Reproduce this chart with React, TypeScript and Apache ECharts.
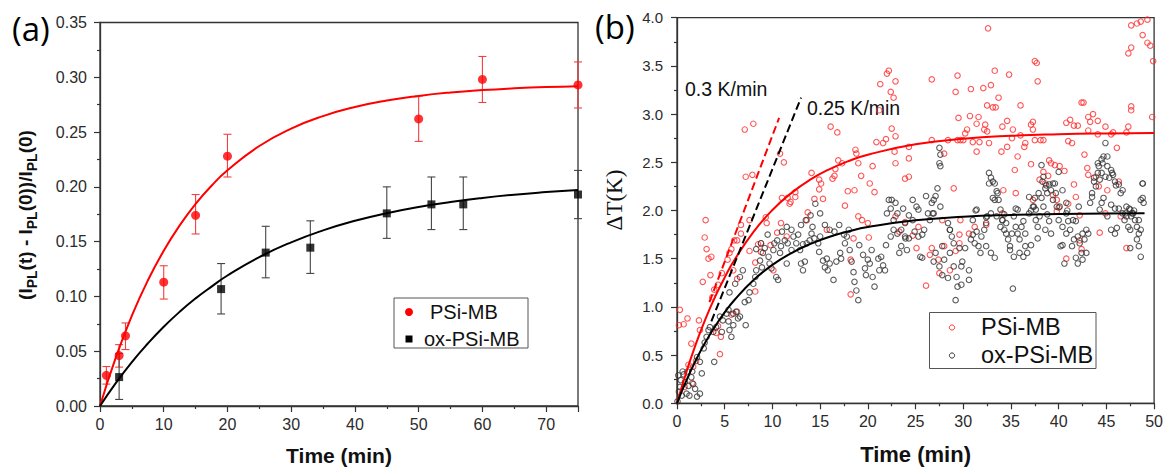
import React, { useEffect, useRef } from 'react';
import * as echarts from 'echarts';

// ---------- Panel (a) data ----------
const psiTimeA = [1, 3, 4, 10, 15, 20, 50, 60, 75];
const psiValA = [0.028, 0.046, 0.064, 0.113, 0.174, 0.228, 0.262, 0.298, 0.293];
const psiLoA = [0.020, 0.0355, 0.0515, 0.0976, 0.157, 0.209, 0.2415, 0.277, 0.272];
const psiHiA = [0.036, 0.056, 0.0758, 0.128, 0.193, 0.248, 0.283, 0.319, 0.314];

const oxTimeA = [3, 19, 26, 33, 45, 52, 57, 75];
const oxValA = [0.0264, 0.1067, 0.140, 0.1445, 0.1758, 0.184, 0.184, 0.193];
const oxLoA = [0.006, 0.084, 0.117, 0.121, 0.153, 0.161, 0.161, 0.171];
const oxHiA = [0.048, 0.130, 0.164, 0.169, 0.200, 0.209, 0.209, 0.215];

// fitted curves
const fitTimeA = [0, 2.5, 5, 7.5, 10, 12.5, 15, 17.5, 20, 25, 30, 35, 40, 45, 50, 55, 60, 65, 70, 75];
const psiFitA = [0, 0.0446, 0.0824, 0.1145, 0.1417, 0.1648, 0.1844, 0.201, 0.2151, 0.2373, 0.2532, 0.2646, 0.2729, 0.2788, 0.283, 0.2861, 0.2883, 0.2899, 0.2911, 0.2919];
const oxFitA = [0, 0.0211, 0.0401, 0.057, 0.0723, 0.086, 0.0982, 0.109, 0.1191, 0.1359, 0.1494, 0.1603, 0.169, 0.176, 0.1817, 0.1862, 0.1899, 0.1929, 0.1952, 0.1971];

const xTicksA = { min: 0, max: 75, interval: 10 };
const yTicksA = { min: 0, max: 0.35, interval: 0.05 };

// ---------- Panel (b) data ----------
const psiFitTimeB = [0, 1, 2, 3, 4, 5, 6, 8, 10, 12, 14, 16, 18, 20, 25, 30, 35, 40, 45, 50];
const psiFitB = [0, 0.33, 0.622, 0.879, 1.106, 1.306, 1.483, 1.776, 2.005, 2.183, 2.322, 2.43, 2.514, 2.579, 2.687, 2.744, 2.775, 2.791, 2.8, 2.805];
const oxFitTimeB = [0, 1, 2, 3, 4, 5, 6, 8, 10, 12, 14, 16, 18, 20, 25, 30, 35, 40, 45, 49];
const oxFitB = [0, 0.2406, 0.4517, 0.6372, 0.8, 0.9432, 1.069, 1.276, 1.436, 1.559, 1.654, 1.728, 1.784, 1.828, 1.898, 1.935, 1.954, 1.964, 1.969, 1.972];

const slope03 = [[3.4, 1.05], [10.7, 2.96]];
const slope025 = [[3.6, 0.85], [13.0, 3.17]];

const psiScatterB = [
  [47.6,3.92],[48.2,3.94],[48.6,3.96],[49.3,3.98],[47.3,3.63],[47.6,3.69],[48.8,3.82],[49.3,3.74],[49.6,3.71],[49.9,3.55],[49.8,2.97],
  [32.6,3.89],[37.5,3.55],[37.7,3.53],[37.8,3.34],[34.8,3.41],[33.3,3.45],[29.4,3.40],[26.7,3.36],[30.8,3.26],[32.1,3.27],[32.9,3.30],[29.2,3.23],[32.5,3.09],[33.1,3.07],[33.4,3.07],[33.7,3.17],[36.0,3.09],[42.4,3.12],[42.6,3.12],[43.6,3.0],[47.6,3.04],[47.6,3.08],
  [29.5,2.96],[30.7,2.98],[31.6,2.97],[31.4,2.90],[32.3,2.89],[32.2,2.84],[34.1,2.87],[34.6,2.93],[35.2,2.84],[36.0,2.78],[37.1,2.89],[37.3,2.92],[30.4,2.84],[30.2,2.80],[29.7,2.73],[30.0,2.73],[32.5,2.82],[35.1,2.75],[35.7,2.56],[35.4,2.42],[34.6,2.66],[34.0,2.61],[36.5,2.70],[36.4,2.66],[37.3,2.84],[37.5,2.73],[38.1,2.73],[38.4,2.73],[37.1,2.48],[38.4,2.40],[39.0,2.52],[39.2,2.49],[39.6,2.47],[40.1,2.46],[40.6,2.41],[40.8,2.91],[41.2,2.94],[41.6,2.88],[42.0,2.88],[41.0,2.72],[41.4,2.70],[42.7,2.58],[43.0,2.44],[43.9,2.35],[43.1,2.97],[43.3,2.92],[43.1,2.83],[44.1,2.93],[44.1,2.79],[44.9,2.87],[45.5,2.79],[45.7,2.81],[46.1,2.65],[47.3,2.87],[47.1,2.81],
  [45.1,2.21],[44.2,2.25],[46.3,2.30],[44.9,1.97],[46.5,1.94],[47.1,1.61],[44.3,1.77],[42.2,1.69],[42.4,1.60],[40.8,1.50],[42.2,1.95],[40.0,2.03],[39.8,2.11],[39.4,2.16],[38.6,2.28],[38.9,2.36],[38.0,2.32],[39.8,1.99],[41.0,2.07],[41.6,2.27],[43.1,2.37],[41.8,2.14],[37.3,2.11],[35.5,2.18],[34.2,2.21],[34.1,1.97],[32.4,1.85],[31.2,1.83],[30.6,1.76],[29.6,1.75],[29.0,2.23],[29.7,1.90],[31.4,2.61],[31.7,2.71],[32.7,2.70],[29.4,2.73],[28.4,2.73],[28.0,2.59],[31.0,2.71],[26.7,2.73],
  [24.3,2.66],[24.3,2.54],[24.3,2.35],[23.9,2.33],[22.8,2.61],[22.5,2.85],[22.9,2.77],[22.9,2.49],[21.9,2.74],[21.6,2.70],[21.2,3.04],[21.3,3.31],[22.0,3.42],[22.2,3.45],[22.4,3.23],[22.7,3.17],[22.9,3.34],[20.9,2.71],[20.5,2.46],[20.2,2.28],[20.7,2.19],[20.0,1.87],[19.0,2.49],[18.7,2.63],[18.8,2.59],[19.3,2.36],[18.6,2.21],[17.9,2.20],[19.0,1.94],[19.4,1.90],[18.5,1.71],[18.2,1.49],[18.2,1.13],[20.1,1.72],[17.3,2.49],[16.9,2.52],[16.1,2.87],[16.8,2.81],[16.3,2.33],[16.5,2.36],[16.6,2.43],[17.6,2.05],
  [14.9,2.32],[15.1,2.28],[15.3,2.12],[15.7,1.80],[14.1,2.39],[14.4,2.12],[14.9,2.22],[13.7,1.98],[13.6,1.90],[12.4,2.19],[12.4,2.14],[11.9,2.09],[11.8,2.07],[11.6,2.13],[11.2,2.50],[10.8,2.59],[11.0,2.13],[10.9,1.87],[11.5,1.73],[10.5,1.77],[10.1,1.38],[9.4,1.87],[9.8,1.64],[9.3,1.93],[8.8,1.57],[8.5,1.65],[8.8,1.66],[8.2,1.46],[8.0,2.90],[7.1,2.84],[7.9,2.37],[7.2,2.35],[7.6,1.90],[7.6,1.58],[8.2,1.16],[6.7,1.76],[6.3,1.69],[6.0,1.69],[5.5,1.56],[5.7,1.60],[5.3,1.49],[5.9,1.38],[6.3,1.29],[6.7,1.85],
  [4.7,1.35],[4.3,1.23],[3.9,1.18],[3.7,1.10],[3.5,1.33],[3.1,1.60],[3.3,1.50],[3.6,1.52],[2.9,1.72],[3.0,1.90],[2.7,1.26],[4.3,0.80],[4.6,0.69],[4.5,0.51],[4.1,0.73],[2.4,0.76],[2.3,0.86],[1.5,0.62],[1.1,0.88],[0.7,0.82],[0.3,0.97],[0.2,0.81],[1.2,0.40],[1.7,0.38],[2.0,0.44],[1.6,0.21],[0.8,0.17],[6.3,0.95],[5.7,0.92],
  [24.7,1.74],[25.1,1.61],[26.1,1.22],[26.7,1.61],[27.4,1.49],[27.5,1.35],[26.5,1.54],[28.0,1.63],[28.6,1.38],[27.8,1.90],[29.2,1.58],[29.6,1.66],[23.3,1.78],[23.9,1.88],[25.3,1.83],[22.9,1.94],
];

const oxScatterB = [
  [0.14,0.29],[0.59,0.33],[0.3,0.17],[0.84,0.22],[1.0,0.1],[1.3,0.08],[1.5,0.27],[1.7,0.2],[1.9,0.15],[2.1,0.07],[2.4,0.1],[2.6,0.31],[2.4,0.43],[2.1,0.48],[2.8,0.57],[2.9,0.63],[3.1,0.69],[3.3,0.76],[3.45,0.79],[3.8,0.74],[4.1,0.79],[3.9,0.43],[4.7,0.74],[4.8,0.86],[4.5,0.90],[5.2,0.93],[5.4,0.85],[5.5,0.76],[5.7,0.69],[5.4,0.97],[5.9,0.93],[6.2,0.95],[6.4,0.88],[6.6,0.90],[5.9,0.81],[7.2,0.81],
  [0.05,0.02],[0.2,0.12],[0.4,0.24],[0.7,0.3],[1.1,0.33],[1.2,0.18],[1.6,0.33],[0.5,0.08],
  [5.5,1.15],[6.1,1.24],[6.6,1.31],[7.1,1.05],[6.9,1.38],[7.6,1.15],[7.5,1.07],[8.0,1.24],[8.2,1.31],[8.3,1.38],[8.7,1.48],[8.9,1.41],[9.0,1.56],[9.2,1.61],[9.6,1.52],[9.7,1.45],[9.9,1.40],[10.1,1.59],[10.2,1.66],[10.4,1.31],[10.6,1.28],[10.8,1.56],[10.9,1.63],[11.3,1.69],[11.6,1.66],[12.0,1.59],[11.5,1.45],[12.2,1.73],[12.5,1.66],[12.9,1.59],[13.0,1.45],[13.2,1.38],[13.4,1.47],[13.6,1.66],[13.9,1.69],[14.1,1.76],[14.4,1.71],[14.8,1.66],[14.9,1.57],[15.3,1.48],[15.5,1.41],[15.7,1.50],[15.8,1.38],[16.0,1.45],[16.4,1.28],[16.7,1.47],[17.1,1.56],[17.2,1.50],[17.6,1.66],[17.8,1.73],[18.1,1.59],[18.3,1.47],[18.5,1.36],[18.6,1.26],[18.8,1.17],[19.0,1.07],[19.1,1.64],[19.5,1.54],[19.7,1.40],[19.8,1.33],[20.0,1.49],[20.2,1.45],[20.4,1.59],[20.5,1.31],[20.7,1.21],[21.1,1.50],[21.2,1.38],[21.4,1.52],[21.6,1.43],[21.8,1.38],[21.9,1.64],
  [8.3,1.6],[8.8,1.66],[9.5,1.75],[10.5,1.69],[11.0,1.78],[11.5,1.83],[12.0,1.80],[12.7,1.75],[13.0,1.85],[13.5,1.90],[14.0,1.95],[14.2,1.83],[15.0,1.73],[15.5,1.85],[16.0,1.80],[16.5,1.78],[17.0,1.85],[17.5,1.75],[18.0,1.80],[14.5,2.07],[15.0,1.97],[13.2,1.65],
  [22.2,2.11],[22.5,2.11],[22.9,2.08],[22.4,2.02],[22.0,1.97],[23.1,1.97],[22.7,1.90],[23.7,2.02],[24.3,1.95],[25.1,2.04],[25.3,2.01],[24.7,1.90],[23.9,1.87],[23.5,1.80],[22.7,1.80],[22.4,1.73],[23.1,1.76],[23.9,1.73],[23.5,1.63],[24.1,1.59],[23.3,1.56],[24.3,1.71],[24.9,1.78],[25.3,1.73],[25.7,1.75],[25.9,1.80],[25.5,1.52],[25.7,1.51],[26.3,1.97],[26.5,1.90],[26.9,1.97],[26.7,2.08],[26.9,2.11],[27.1,2.15],[27.5,2.65],[27.6,2.58],[27.5,2.49],[27.6,2.46],[27.3,2.23],[27.6,2.04],[28.4,1.87],[28.6,1.80],[28.8,1.73],[29.0,1.66],[27.8,1.63],[27.1,1.56],[27.5,1.42],[26.9,1.47],[28.0,1.49],[27.8,1.33],[28.4,1.30],[28.6,1.56],[29.0,1.42],[29.3,1.31],[29.4,1.21],[29.8,1.23],[29.2,1.07],[29.6,1.61],[29.8,1.42],[30.2,1.61],[30.6,1.38],[30.6,1.28],[29.9,1.47],
  [30.8,1.70],[31.0,1.75],[31.4,1.78],[31.2,1.66],[31.6,1.63],[31.8,1.56],[31.9,1.73],[32.2,1.80],[32.4,1.87],[32.5,1.94],[31.4,2.01],[31.0,1.90],[32.7,2.39],[32.9,2.34],[33.1,2.30],[32.7,2.28],[33.3,2.28],[33.5,2.20],[33.7,2.11],[33.3,2.11],[33.9,2.01],[32.9,1.97],[33.5,1.94],[33.9,1.83],[34.3,1.80],[34.1,1.90],[34.5,1.76],[34.7,1.70],[34.9,1.63],[35.1,1.76],[34.5,1.87],[34.3,1.96],[35.3,1.94],[35.5,1.83],[35.7,1.76],[35.9,1.70],[36.1,1.83],[36.3,1.89],[36.5,1.76],[35.7,2.01],[34.9,1.59],[35.3,1.52],[35.9,1.56],[36.3,1.52],[36.5,1.63],[36.7,1.56],[35.2,1.19],[33.3,1.51],[32.9,1.56],[32.4,1.63],
  [36.9,1.97],[37.3,2.04],[37.5,2.13],[37.6,2.01],[37.8,1.83],[38.0,1.94],[38.2,2.13],[38.2,2.47],[38.4,2.35],[38.6,2.23],[38.8,2.18],[39.0,2.27],[39.2,2.21],[39.6,2.28],[39.4,2.11],[39.8,2.04],[38.4,2.04],[38.8,1.96],[37.6,1.90],[38.6,1.80],[39.0,1.89],[39.2,1.76],[37.8,1.71],[37.1,1.64],[40.0,2.40],[40.4,2.21],[40.8,2.08],[40.8,1.97],[40.0,1.90],[40.4,1.83],[41.0,1.89],[41.2,1.80],[40.8,1.76],[41.6,1.70],[41.4,1.63],[40.4,1.64],[40.2,1.63],[40.6,1.45],[41.8,1.89],[42.0,1.73],[42.2,1.66],[42.5,1.76],[42.7,1.70],[42.9,1.80],[43.1,1.76],[42.4,1.56],[42.5,1.49],[42.0,1.45],[41.8,1.51],[42.9,1.56],
  [43.3,2.08],[43.5,2.18],[43.9,2.25],[43.7,2.34],[44.1,2.39],[44.1,2.49],[44.5,2.53],[44.7,2.56],[44.9,2.70],[45.1,2.46],[44.5,2.39],[44.3,2.32],[44.9,2.35],[45.3,2.34],[45.5,2.42],[45.7,2.37],[45.9,2.30],[46.3,2.27],[46.5,2.18],[44.7,2.13],[44.3,2.01],[44.5,2.08],[45.5,2.06],[45.9,2.02],[45.1,1.94],[46.3,2.02],[46.7,1.97],[46.9,1.90],[47.1,2.04],[47.5,2.01],[47.6,1.94],[47.8,1.97],[47.3,1.83],[47.5,1.80],[48.0,1.90],[48.2,1.83],[48.4,1.76],[48.6,1.80],[48.2,1.70],[48.4,1.63],[48.6,1.52],[48.8,2.13],[48.8,2.28],[48.9,2.08],[47.5,1.61],[47.1,1.94],[46.1,1.82],[45.9,1.76],[45.5,1.80],
  [23.95,1.71],[24.7,2.11],[26.1,2.15],[26.8,1.97],[28.6,1.80],[31.3,2.00],[32.4,1.93],[33.1,2.13],[33.6,2.18],[34.1,1.90],[35.5,2.02],[36.9,2.14],[37.1,2.00],[37.4,2.04],[37.9,2.18],[38.3,2.30],[38.7,2.26],[39.4,2.28],[39.7,2.18],[40.1,2.04],[40.9,2.00],[41.5,1.90],[42.1,2.04],[43.5,2.14],[43.7,2.30],[44.2,2.46],[44.6,2.49],[45.1,2.56],[45.6,2.39],[46.0,2.26],[46.7,2.21],[47.0,1.97],[47.4,2.02],[47.7,1.97],[47.9,2.00],[48.4,1.90],[48.6,2.11],[48.8,2.28],
];

const xTicksB = { min: 0, max: 50, interval: 5 };
const yTicksB = { min: 0, max: 4, interval: 0.5 };

const FONT = '"Liberation Sans", Arial, sans-serif';
const AXIS_COLOR = '#333';

function errorBars(name: string, xs: number[], lo: number[], hi: number[], color: string) {
  return {
    type: 'custom',
    name,
    xAxisIndex: 0,
    yAxisIndex: 0,
    silent: true,
    z: 3,
    data: xs.map((x, i) => [x, lo[i], hi[i]]),
    encode: { x: 0, y: [1, 2] },
    renderItem: (_p: any, api: any) => {
      const x = api.value(0);
      const a = api.coord([x, api.value(1)]);
      const b = api.coord([x, api.value(2)]);
      const w = 4;
      const style = { stroke: color, lineWidth: 1.1 };
      return {
        type: 'group',
        children: [
          { type: 'line', shape: { x1: a[0], y1: a[1], x2: b[0], y2: b[1] }, style },
          { type: 'line', shape: { x1: a[0] - w, y1: a[1], x2: a[0] + w, y2: a[1] }, style },
          { type: 'line', shape: { x1: b[0] - w, y1: b[1], x2: b[0] + w, y2: b[1] }, style },
        ],
      };
    },
  };
}

function axisBase(fontSize: number, margin: number) {
  return {
    type: 'value',
    axisLine: { show: true, onZero: false, lineStyle: { color: AXIS_COLOR, width: 1.3 } },
    axisTick: { show: true, length: 6, lineStyle: { color: AXIS_COLOR, width: 1.2 } },
    minorTick: { show: true, splitNumber: 2, length: 3, lineStyle: { color: AXIS_COLOR, width: 1.2 } },
    splitLine: { show: false },
    minorSplitLine: { show: false },
    axisLabel: { color: '#2b2b2b', fontSize, margin, fontFamily: FONT },
  };
}

export default function App() {
  const ref = useRef<HTMLDivElement>(null);
  useEffect(() => {
    document.body.style.margin = '0';
    if (!ref.current) return;
    const chart = echarts.init(ref.current, undefined, { renderer: 'svg' });
    const option: any = {
      animation: false,
      backgroundColor: '#ffffff',
      grid: [
        { left: 100, top: 22.5, width: 478, height: 385, show: true, borderColor: AXIS_COLOR, borderWidth: 1.3, backgroundColor: 'transparent' },
        { left: 677, top: 17.7, width: 478, height: 385.6, show: true, borderColor: AXIS_COLOR, borderWidth: 1.3, backgroundColor: 'transparent' },
      ],
      xAxis: [
        {
          ...axisBase(16, 10), gridIndex: 0, ...xTicksA,
          axisLabel: { ...axisBase(16, 10).axisLabel, showMaxLabel: false, formatter: (v: number) => (v % 10 === 0 ? String(v) : '') },
          name: 'Time (min)', nameLocation: 'middle', nameGap: 39,
          nameTextStyle: { fontSize: 21, fontWeight: 'bold', color: '#111', fontFamily: FONT },
        },
        {
          ...axisBase(16, 10), gridIndex: 1, ...xTicksB,
          axisLabel: { ...axisBase(16, 10).axisLabel, formatter: (v: number) => String(v) },
          name: 'Time (min)', nameLocation: 'middle', nameGap: 40,
          nameTextStyle: { fontSize: 22, fontWeight: 'bold', color: '#111', fontFamily: FONT },
        },
      ],
      yAxis: [
        {
          ...axisBase(16, 13), gridIndex: 0, ...yTicksA,
          axisLabel: { ...axisBase(16, 13).axisLabel, formatter: (v: number) => v.toFixed(2) },
        },
        {
          ...axisBase(15, 14), gridIndex: 1, ...yTicksB,
          axisLabel: { ...axisBase(15, 14).axisLabel, formatter: (v: number) => v.toFixed(1) },
        },
      ],
      series: [
        errorBars('PSi-MB err', psiTimeA, psiLoA, psiHiA, '#f04040'),
        errorBars('ox-PSi-MB err', oxTimeA, oxLoA, oxHiA, '#444'),
        {
          type: 'line', name: 'PSi-MB fit', xAxisIndex: 0, yAxisIndex: 0, smooth: true, showSymbol: false, silent: true, z: 4,
          data: fitTimeA.map((t, i) => [t, psiFitA[i]]), lineStyle: { color: '#ff0000', width: 2 },
        },
        {
          type: 'line', name: 'ox-PSi-MB fit', xAxisIndex: 0, yAxisIndex: 0, smooth: true, showSymbol: false, silent: true, z: 4,
          data: fitTimeA.map((t, i) => [t, oxFitA[i]]), lineStyle: { color: '#000', width: 2 },
        },
        {
          type: 'scatter', name: 'PSi-MB', xAxisIndex: 0, yAxisIndex: 0, symbol: 'circle', symbolSize: 9, z: 5,
          data: psiTimeA.map((t, i) => [t, psiValA[i]]), itemStyle: { color: '#ff0000' },
        },
        {
          type: 'scatter', name: 'ox-PSi-MB', xAxisIndex: 0, yAxisIndex: 0, symbol: 'rect', symbolSize: 8, z: 5,
          data: oxTimeA.map((t, i) => [t, oxValA[i]]), itemStyle: { color: '#000' },
        },
        // panel b
        {
          type: 'scatter', name: 'PSi-MB (b)', xAxisIndex: 1, yAxisIndex: 1, symbol: 'circle', symbolSize: 5.5, z: 2,
          data: psiScatterB, itemStyle: { color: 'rgba(255,255,255,0)', borderColor: '#ff2a2a', borderWidth: 1.1 },
        },
        {
          type: 'scatter', name: 'ox-PSi-MB (b)', xAxisIndex: 1, yAxisIndex: 1, symbol: 'circle', symbolSize: 5.5, z: 2,
          data: oxScatterB, itemStyle: { color: 'rgba(255,255,255,0)', borderColor: '#333', borderWidth: 1.1 },
        },
        {
          type: 'line', name: 'PSi-MB fit (b)', xAxisIndex: 1, yAxisIndex: 1, smooth: true, showSymbol: false, silent: true, z: 4,
          data: psiFitTimeB.map((t, i) => [t, psiFitB[i]]), lineStyle: { color: '#ff0000', width: 2 },
        },
        {
          type: 'line', name: 'ox-PSi-MB fit (b)', xAxisIndex: 1, yAxisIndex: 1, smooth: true, showSymbol: false, silent: true, z: 4,
          data: oxFitTimeB.map((t, i) => [t, oxFitB[i]]), lineStyle: { color: '#000', width: 2 },
        },
        {
          type: 'line', name: '0.3 K/min', xAxisIndex: 1, yAxisIndex: 1, showSymbol: false, silent: true, z: 4,
          data: slope03, lineStyle: { color: '#ff0000', width: 2, type: [8, 4] },
        },
        {
          type: 'line', name: '0.25 K/min', xAxisIndex: 1, yAxisIndex: 1, showSymbol: false, silent: true, z: 4,
          data: slope025, lineStyle: { color: '#000', width: 2, type: [8, 4] },
        },
      ],
      graphic: [
        { type: 'text', left: 12, top: 12, style: { text: '(a)', fontSize: 33, fontFamily: '"Open Sans", sans-serif', fill: '#000' } },
        { type: 'text', left: 595, top: 10, style: { text: '(b)', fontSize: 33, fontFamily: '"Open Sans", sans-serif', fill: '#000' } },
        {
          type: 'text', x: 27, y: 215, rotation: Math.PI / 2,
          style: {
            text: '{b|(I}{s|PL}{b|(t) - I}{s|PL}{b|(0))/I}{s|PL}{b|(0)}',
            align: 'center', verticalAlign: 'middle', fill: '#111',
            rich: {
              b: { fontSize: 19, fontWeight: 'bold', fontFamily: FONT, fill: '#111', verticalAlign: 'bottom', padding: [0, 0, 4, 0] },
              s: { fontSize: 14, fontWeight: 'bold', fontFamily: FONT, fill: '#111', verticalAlign: 'bottom' },
            },
          },
        },
        {
          type: 'text', x: 614, y: 200, rotation: Math.PI / 2,
          style: { text: 'ΔT(K)', align: 'center', verticalAlign: 'middle', fontSize: 23, fontFamily: '"Liberation Serif", "Times New Roman", serif', fill: '#111' },
        },
        { type: 'text', x: 685, y: 89, style: { text: '0.3 K/min', verticalAlign: 'middle', fontSize: 19.5, fontFamily: FONT, fill: '#111' } },
        { type: 'text', x: 807, y: 108, style: { text: '0.25 K/min', verticalAlign: 'middle', fontSize: 19.5, fontFamily: FONT, fill: '#111' } },
        // legend a
        { type: 'rect', shape: { x: 394, y: 298, width: 134, height: 50 }, style: { fill: '#fff', stroke: '#555', lineWidth: 1 }, z: 10 },
        { type: 'circle', shape: { cx: 409, cy: 312, r: 4 }, style: { fill: '#ff0000' }, z: 11 },
        { type: 'text', x: 430, y: 312, z: 11, style: { text: 'PSi-MB', verticalAlign: 'middle', fontSize: 20, fontFamily: FONT, fill: '#111' } },
        { type: 'rect', shape: { x: 405.5, y: 335.5, width: 7, height: 7 }, style: { fill: '#000' }, z: 11 },
        { type: 'text', x: 424, y: 339, z: 11, style: { text: 'ox-PSi-MB', verticalAlign: 'middle', fontSize: 20, fontFamily: FONT, fill: '#111' } },
        // legend b
        { type: 'rect', shape: { x: 929.5, y: 312.5, width: 166.5, height: 56 }, style: { fill: '#fff', stroke: '#555', lineWidth: 1 }, z: 10 },
        { type: 'circle', shape: { cx: 952, cy: 327.5, r: 2.6 }, style: { fill: 'none', stroke: '#ff3030', lineWidth: 1 }, z: 11 },
        { type: 'text', x: 981, y: 327, z: 11, style: { text: 'PSi-MB', verticalAlign: 'middle', fontSize: 23.5, fontFamily: FONT, fill: '#111' } },
        { type: 'circle', shape: { cx: 952, cy: 355.5, r: 2.6 }, style: { fill: 'none', stroke: '#333', lineWidth: 1 }, z: 11 },
        { type: 'text', x: 981, y: 355, z: 11, style: { text: 'ox-PSi-MB', verticalAlign: 'middle', fontSize: 23.5, fontFamily: FONT, fill: '#111' } },
      ],
    };
    chart.setOption(option);
    return () => chart.dispose();
  }, []);
  return <div ref={ref} style={{ width: 1166, height: 471 }} />;
}
